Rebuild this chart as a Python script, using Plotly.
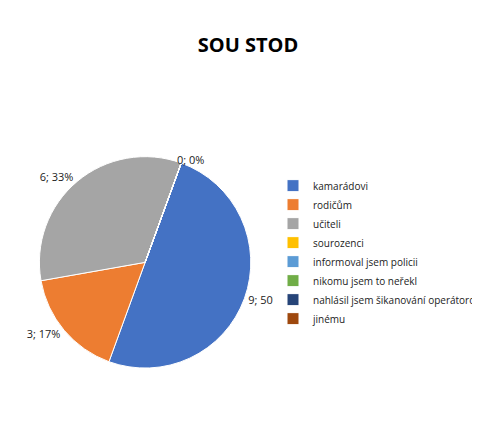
import plotly.graph_objects as go

labels = ['kamarádovi', 'rodičům', 'učiteli', 'sourozenci', 'informoval jsem policii',
          'nikomu jsem to neřekl', 'nahlásil jsem šikanování operátorovi', 'jinému']
values = [9, 3, 6, 0, 0, 0, 0, 0]
colors = ['#4472C4', '#ED7D31', '#A5A5A5', '#FFC000', '#5B9BD5', '#70AD47', '#264478', '#9E480E']

templates = ['%{value}; %{percent:.0%}' if v > 0 else '' for v in values]

fig = go.Figure(go.Pie(
    labels=labels,
    values=values,
    marker=dict(colors=colors, line=dict(color='white', width=1)),
    sort=False,
    direction='clockwise',
    rotation=20,
    texttemplate=templates,
    textposition='outside',
    textfont=dict(size=11, color='#222'),
    domain=dict(x=[0.03, 0.6], y=[0.12, 0.74]),
    showlegend=True,
))

fig.add_annotation(x=0.43, y=0.76, xref='paper', yref='paper', text='0; 0%',
                   showarrow=False, font=dict(size=11, color='#222'))

fig.update_layout(
    title=dict(text='<b>SOU STOD</b>', x=0.5, y=0.93, xanchor='center',
               font=dict(size=20, color='#000')),
    width=480, height=431,
    paper_bgcolor='white',
    margin=dict(l=5, r=0, t=60, b=30),
    legend=dict(x=0.64, y=0.46, yanchor='middle', tracegroupgap=17,
                font=dict(size=10, color='#222'), itemwidth=30),
)

fig.write_html('out.html')
